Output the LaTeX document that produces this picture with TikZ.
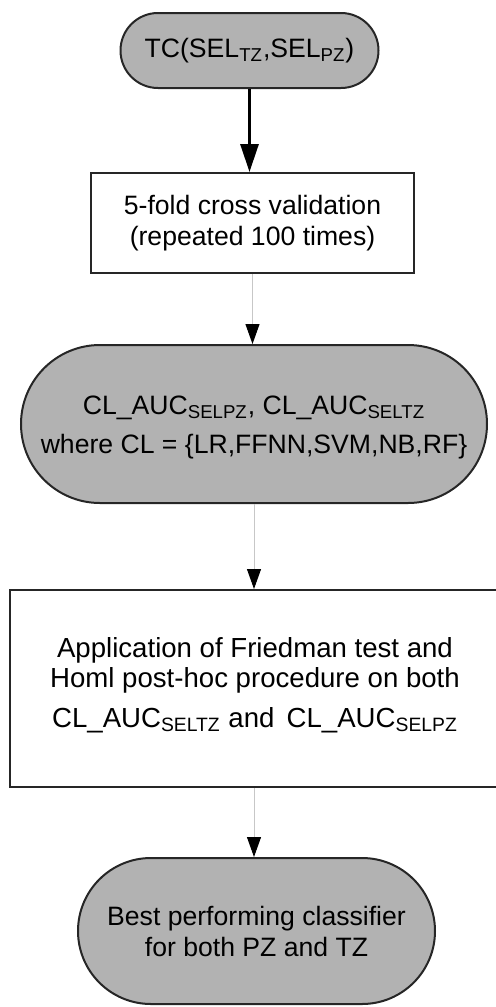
\documentclass[tikz,border=0pt]{standalone}
\usepackage{fontspec}
\setmainfont{Liberation Sans}
\usetikzlibrary{arrows.meta,shapes.misc}

\begin{document}
\begin{tikzpicture}[x=0.5pt,y=-0.5pt,
  every node/.style={font=\fontsize{13.3}{15.5}\selectfont,align=center,inner sep=0pt},
  term/.style={rounded rectangle,draw=black!85,line width=1pt,fill=black!30},
  proc/.style={rectangle,draw=black!85,line width=1pt,fill=white},
  flow/.style={draw=black!22,line width=0.5pt,-{Triangle[length=10pt,width=7pt,black]}}]
  \useasboundingbox (0,0) rectangle (496,1007);
  % Start
  \node[term,minimum width=129pt,minimum height=37.5pt] (tc) at (249.5,50.5)
       {TC(SEL\textsubscript{TZ},SEL\textsubscript{PZ})};
  % Cross validation
  \node[proc,minimum width=161.5pt,minimum height=50pt] (cv) at (252.5,223)
       {5-fold cross validation\\ (repeated 100 times)};
  % AUC values
  \node[term,minimum width=233pt,minimum height=79pt] (auc) at (254,424)
       {CL\_AUC\textsubscript{SELPZ}, CL\_AUC\textsubscript{SELTZ}\\[4pt]
        where CL = \{LR,FFNN,SVM,NB,RF\}\\[-16pt]};
  % Statistical tests
  \node[proc,minimum width=245pt,minimum height=98.5pt,font=\fontsize{13.8}{15}\selectfont] (stat) at (255,688.5)
       {Application of Friedman test and\\
        Homl post-hoc procedure on both\\[5pt]
        CL\_AUC\textsubscript{SELTZ} and\, CL\_AUC\textsubscript{SELPZ}\\[-9pt]};
  % Result
  \node[term,minimum width=178.5pt,minimum height=73pt] (best) at (256.5,931)
       {Best performing classifier\\ for both PZ and TZ};
  % Arrows
  \draw[line width=1.5pt,-{Triangle[length=14pt,width=9pt]}] (tc.south) -- (tc.south |- cv.north);
  \draw[flow] (cv.south) -- (cv.south |- auc.north);
  \draw[flow] (auc.south) -- (auc.south |- stat.north);
  \draw[flow] (stat.south -| auc.south) -- (best.north -| auc.south);
\end{tikzpicture}
\end{document}
